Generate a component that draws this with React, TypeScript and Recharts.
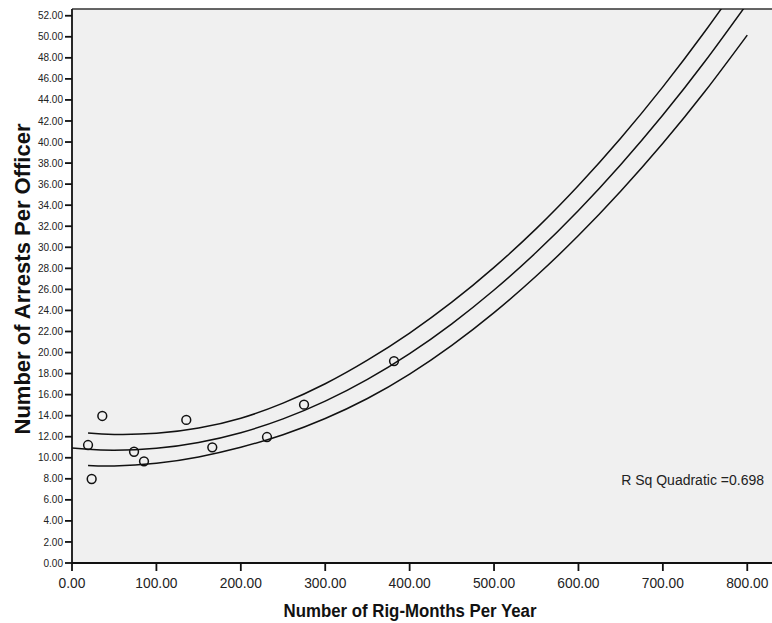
import React from "react";
import {
  ComposedChart,
  XAxis,
  YAxis,
  CartesianGrid,
  Line,
  Scatter,
  ReferenceLine,
} from "recharts";

// observed cases
const rigMonths = [19, 23.3, 35.9, 73.5, 85.3, 135.4, 166.2, 231, 274.9, 381.5];
const arrests = [11.21, 7.98, 13.97, 10.57, 9.66, 13.59, 10.99, 11.97, 15.04, 19.19];

// quadratic fit line
const fitX = [0, 19, 50, 100, 150, 200, 250, 300, 350, 400, 450, 500, 550, 600, 650, 700, 750, 800];
const fitY = [10.93, 10.81, 10.72, 10.9, 11.45, 12.38, 13.69, 15.38, 17.45, 19.9, 22.73, 25.94, 29.52, 33.49, 37.84, 42.56, 47.67, 53.16];

// confidence band (upper / lower)
const bandX = [19, 50, 100, 150, 200, 250, 300, 350, 400, 450, 500, 550, 600, 650, 700, 750, 800];
const upperY = [12.36, 12.22, 12.32, 12.82, 13.76, 15.19, 17.03, 19.27, 21.85, 24.78, 28.09, 31.77, 35.87, 40.36, 45.24, 50.52, 56.16];
const lowerY = [9.26, 9.22, 9.48, 10.08, 11.0, 12.19, 13.73, 15.63, 17.95, 20.68, 23.79, 27.27, 31.11, 35.32, 39.88, 44.82, 50.16];

const xTicks = [0, 100, 200, 300, 400, 500, 600, 700, 800];
const yTicks = [0, 2, 4, 6, 8, 10, 12, 14, 16, 18, 20, 22, 24, 26, 28, 30, 32, 34, 36, 38, 40, 42, 44, 46, 48, 50, 52];

const X_MAX = 829.3;
const Y_MAX = 52.64;

const points = rigMonths.map((x, i) => ({ x, y: arrests[i] }));
const fitData = fitX.map((x, i) => ({ x, y: fitY[i] }));
const upperData = bandX.map((x, i) => ({ x, y: upperY[i] }));
const lowerData = bandX.map((x, i) => ({ x, y: lowerY[i] }));

const FONT = "'Liberation Sans', Arial, sans-serif";

const Ring = (props: any) => {
  const { cx, cy } = props;
  if (cx == null || cy == null) return null;
  return <circle cx={cx} cy={cy} r={4.4} fill="none" stroke="#111" strokeWidth={1.5} />;
};

// x tick labels in the original are a bit narrow for their height
const XTick = (props: any) => {
  const { x, y, payload } = props;
  return (
    <g transform={`translate(${x},${y})`}>
      <text transform="scale(0.92,1)" textAnchor="middle" dy="0.71em" fontSize={15} fontFamily={FONT} fill="#222">
        {Number(payload.value).toFixed(2)}
      </text>
    </g>
  );
};

export default function App() {
  return (
    <div style={{ position: "absolute", left: 0, top: 0, width: 772, height: 623, background: "#fff", fontFamily: FONT }}>
      <ComposedChart width={772} height={623} margin={{ top: 9, right: 0, bottom: 0, left: 0 }}>
        <CartesianGrid horizontal={false} vertical={false} fill="#f0f0f0" />
        <XAxis
          type="number"
          dataKey="x"
          domain={[0, X_MAX]}
          ticks={xTicks}
          allowDataOverflow
          height={60}
          tickSize={8}
          tickMargin={6}
          stroke="#111"
          strokeWidth={1.8}
          tick={<XTick />}
          label={(p: any) => (
            <g transform="translate(410,617)">
              <text transform="scale(0.91,1)" textAnchor="middle" fontFamily={FONT} fontWeight="bold" fontSize={18.5} fill="#111">
                Number of Rig-Months Per Year
              </text>
            </g>
          )}
        />
        <YAxis
          type="number"
          dataKey="y"
          domain={[0, Y_MAX]}
          ticks={yTicks}
          allowDataOverflow
          width={72}
          tickSize={7}
          tickMargin={2}
          stroke="#111"
          strokeWidth={1.8}
          tick={{ fill: "#222", fontSize: 10, fontFamily: FONT }}
          tickFormatter={(v: number) => v.toFixed(2)}
          label={(p: any) => (
            <text
              x={30}
              y={279}
              transform="rotate(-90 30 279)"
              textAnchor="middle"
              fontFamily={FONT}
              fontWeight="bold"
              fontSize={22}
              fill="#111"
            >
              Number of Arrests Per Officer
            </text>
          )}
        />
        <ReferenceLine y={Y_MAX} stroke="#333" strokeWidth={1.5} />
        <Line data={fitData} dataKey="y" type="natural" stroke="#111" strokeWidth={1.5} dot={false} isAnimationActive={false} />
        <Line data={upperData} dataKey="y" type="natural" stroke="#111" strokeWidth={1.5} dot={false} isAnimationActive={false} />
        <Line data={lowerData} dataKey="y" type="natural" stroke="#111" strokeWidth={1.5} dot={false} isAnimationActive={false} />
        <Scatter data={points} dataKey="y" shape={<Ring />} isAnimationActive={false} />
      </ComposedChart>
      <div
        style={{
          position: "absolute",
          left: 764,
          top: 480,
          transform: "translate(-100%, -50%)",
          fontSize: 14,
          color: "#222",
          whiteSpace: "nowrap",
        }}
      >
        R Sq Quadratic =0.698
      </div>
    </div>
  );
}
